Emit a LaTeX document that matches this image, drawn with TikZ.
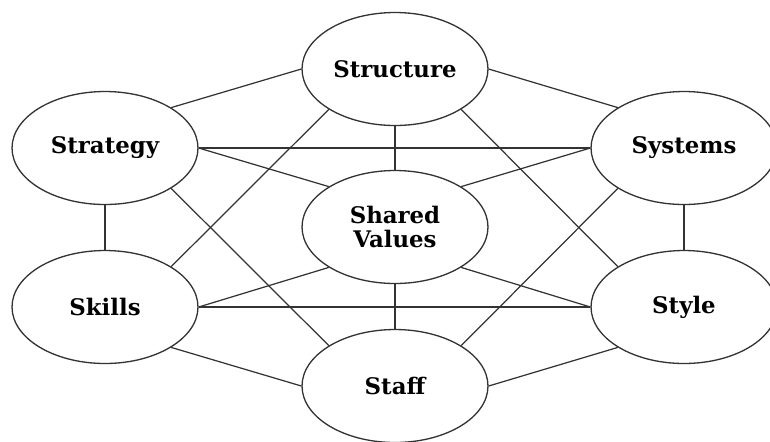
\documentclass[tikz,border=0pt]{standalone}
\usepackage{fontspec}
\setmainfont{DejaVu Serif}
\usepackage{tikz}
\usetikzlibrary{positioning,
                shapes.geometric}
\usepackage{xcolor}
\definecolor{linkgray}{HTML}{333333}

\begin{document}
\begin{tikzpicture}[x=0.02cm,y=-0.02cm]

\tikzset{
elementunit/.style={
draw=linkgray,
ellipse,
line width=0.75pt,
inner sep=0pt,
minimum width=3.72cm,
minimum height=2.26cm,
align=center,
font=\bfseries\fontsize{13}{13.5}\selectfont
},
linkline/.style={
draw=linkgray,
line width=0.7pt
}
}

\useasboundingbox (0,0) rectangle (770,441);

%--------------------------------------------------
% ELEMENTS
%--------------------------------------------------

\node[elementunit] (structure) at (395,69) {Structure};
\node[elementunit] (strategy) at (105,148) {Strategy};
\node[elementunit] (systems) at (684,148) {Systems};
\node[elementunit] (shared) at (395,227) {Shared\\Values};
\node[elementunit] (skills) at (105,307) {Skills};
\node[elementunit] (style) at (684,307) {Style};
\node[elementunit] (staff) at (395,386) {Staff};

%--------------------------------------------------
% LINKS
%--------------------------------------------------

\draw[linkline] (strategy.north east) -- (structure.west);
\draw[linkline] (structure.east) -- (systems.north west);
\draw[linkline] (strategy.east) -- (systems.west);
\draw[linkline] (strategy.east) -- (shared.north west);
\draw[linkline] (systems.west) -- (shared.north east);
\draw[linkline] (structure.south) -- (shared.north);
\draw[linkline] (structure.south west) -- (skills.north east);
\draw[linkline] (structure.south east) -- (style.north west);
\draw[linkline] (strategy.south) -- (skills.north);
\draw[linkline] (systems.south) -- (style.north);
\draw[linkline] (strategy.south east) -- (staff.north west);
\draw[linkline] (systems.south west) -- (staff.north east);
\draw[linkline] (skills.east) -- (shared.south west);
\draw[linkline] (style.west) -- (shared.south east);
\draw[linkline] (skills.east) -- (style.west);
\draw[linkline] (shared.south) -- (staff.north);
\draw[linkline] (skills.south east) -- (staff.west);
\draw[linkline] (style.south west) -- (staff.east);

\end{tikzpicture}
\end{document}
